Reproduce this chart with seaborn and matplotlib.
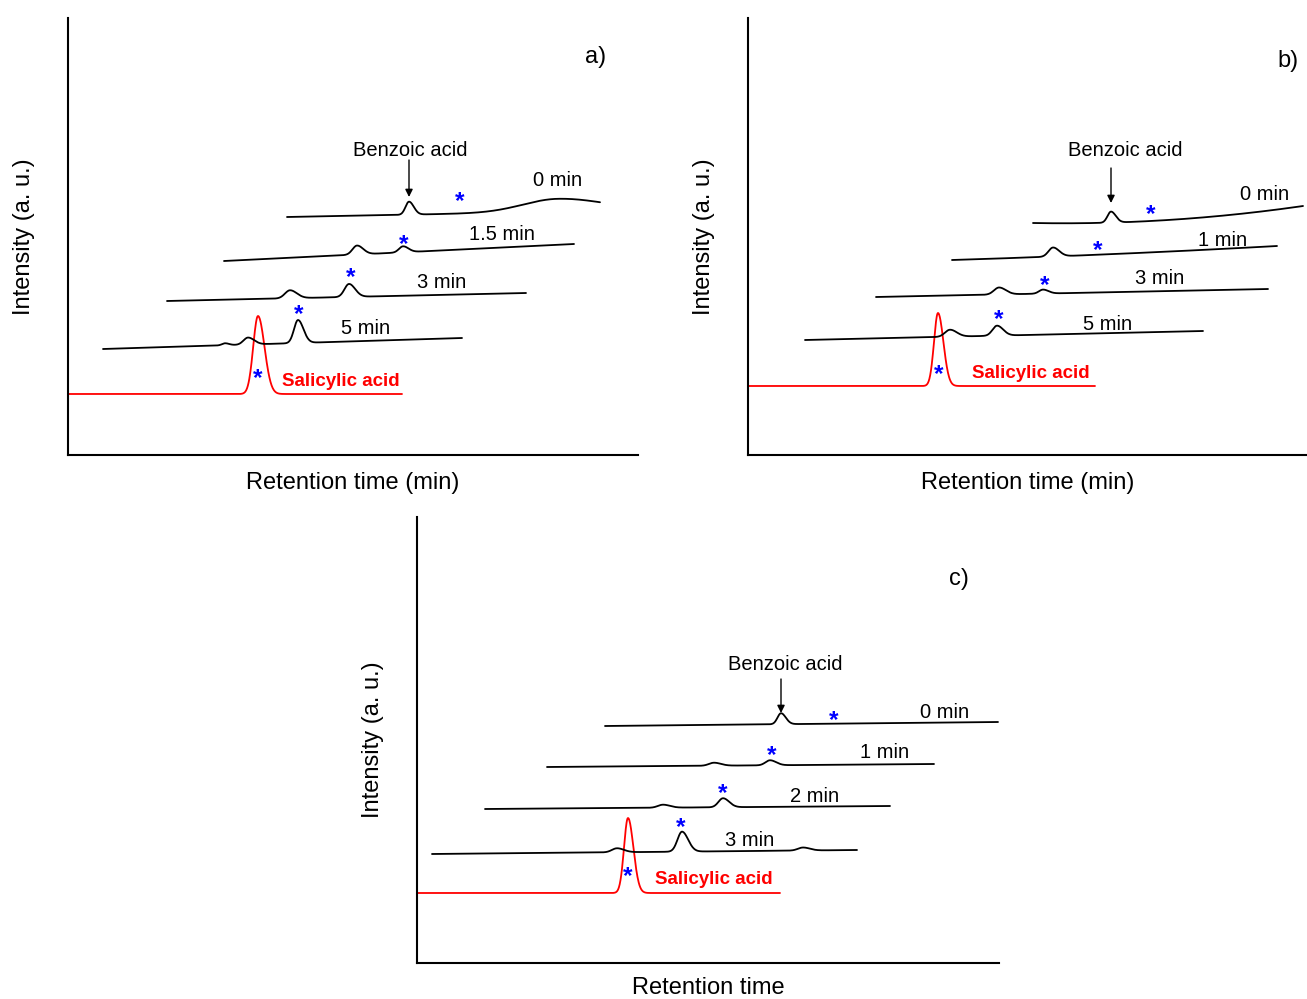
import numpy as np
import pandas as pd
import matplotlib
matplotlib.use("Agg")
import matplotlib.pyplot as plt
import seaborn as sns

sns.set_theme(style="white")
plt.rcParams["font.family"] = ["Liberation Sans", "DejaVu Sans"]
plt.rcParams["text.color"] = "black"

FIG_W, FIG_H = 1307, 999
DPI = 100

# ---------------------------------------------------------------------------
# Chromatogram data (x: retention axis units, y: intensity units, both a.u.)
# Each trace: start/end of the run, baseline at start / middle / end,
# and peaks given as (retention, height, width).
# ---------------------------------------------------------------------------

# Panel a)
a_runs = ["0 min", "1.5 min", "3 min", "5 min"]
a_start = [219, 156, 99, 35]
a_end = [532, 506, 458, 394]
a_baseline = [(238, 241, 244), (194, 202.5, 211), (154, 158, 162), (106, 111.5, 117)]
a_peaks = [
    [(341, 13, 3.5), (490, 13, 35)],
    [(289, 9, 4.5), (335, 6, 4)],
    [(222, 8, 5), (281, 13, 4.5)],
    [(157, 2, 3), (180, 7, 4.5), (230, 23, 4)],
]
a_star = [(392, 257), (336, 214), (283, 181), (231, 144)]
a_run_label_pos = [(490, 277), (434, 223), (374, 175), (298, 128)]
a_sal = dict(start=0, end=334, base=61, peak=(190, 78, 4.8), star=(190, 80), label=(214, 75))
a_benzoic = dict(text=(342, 306), arrow=(341, 295, 258))
a_tag = ("a)", 528, 400)

# Panel b)
b_runs = ["0 min", "1 min", "3 min", "5 min"]
b_start = [285, 204, 128, 57]
b_end = [555, 529, 520, 455]
b_baseline = [(232, 235, 249), (195, 201, 209), (158, 162, 166), (115, 119.5, 124)]
b_peaks = [
    [(363, 11, 3.5)],
    [(305, 9, 4.5)],
    [(251, 7, 5), (295, 4, 4)],
    [(202, 7, 5), (249, 10, 4.5)],
]
b_star = [(403, 244), (350, 208), (297, 173), (251, 139)]
b_run_label_pos = [(517, 263), (475, 216), (412, 178), (360, 133)]
b_sal = dict(start=0, end=347, base=69, peak=(190, 73, 4), star=(191, 84), label=(224, 83))
b_benzoic = dict(text=(377, 306), arrow=(363, 287, 252))
b_tag = ("b)", 540, 396)

# Panel c)
c_runs = ["0 min", "1 min", "2 min", "3 min"]
c_start = [188, 130, 68, 15]
c_end = [581, 517, 473, 440]
c_baseline = [(237, 239, 241), (196, 197.5, 199), (154, 155.5, 157), (109, 111, 113)]
c_peaks = [
    [(364, 11, 3.5)],
    [(297, 3, 5), (353, 5, 4.5)],
    [(246, 3, 5), (306, 9, 4.5)],
    [(200, 4, 5), (265, 20, 4.5), (386, 3, 5)],
]
c_star = [(417, 246), (355, 211), (306, 173), (264, 139)]
c_run_label_pos = [(528, 252), (468, 213), (398, 168), (333, 124)]
c_sal = dict(start=0, end=363, base=70, peak=(211, 75, 4), star=(211, 90), label=(238, 85))
c_benzoic = dict(text=(368, 301), arrow=(364, 284, 250))
c_tag = ("c)", 542, 386)

# Axes frames in pixels: left, top, right, bottom
frames = {
    "a": (68, 18, 638, 455),
    "b": (748, 18, 1307, 455),
    "c": (417, 517, 999, 963),
}
xlabels = {"a": "Retention time (min)", "b": "Retention time (min)", "c": "Retention time"}
xlabel_gap = {"a": -28, "b": -28, "c": -25}

TAIL = 1.35
TEXT_DY = -2   # optical centring of annotation text


def trace(start, end, baseline, peaks):
    x = np.linspace(start, end, 900)
    b0, bm, b1 = baseline
    coef = np.polyfit([start, (start + end) / 2, end], [b0, bm, b1], 2)
    y = np.polyval(coef, x)
    for center, height, width in peaks:
        sig = np.where(x < center, width, width * TAIL)
        y = y + height * np.exp(-0.5 * ((x - center) / sig) ** 2)
    return pd.DataFrame({"retention": x, "intensity": y})


def star(ax, x, y):
    fs = 17.5
    em = fs * DPI / 72
    ax.text(x, y - 0.43 * em, "*", color="blue", fontsize=fs, fontweight="bold",
            ha="center", va="baseline", clip_on=False)


def label(ax, x, y, s, **kw):
    ax.text(x, y + TEXT_DY, s, va="center", clip_on=False, **kw)


fig = plt.figure(figsize=(FIG_W / DPI, FIG_H / DPI), dpi=DPI)

panels = {
    "a": (a_runs, a_start, a_end, a_baseline, a_peaks, a_star, a_run_label_pos, a_sal, a_benzoic, a_tag),
    "b": (b_runs, b_start, b_end, b_baseline, b_peaks, b_star, b_run_label_pos, b_sal, b_benzoic, b_tag),
    "c": (c_runs, c_start, c_end, c_baseline, c_peaks, c_star, c_run_label_pos, c_sal, c_benzoic, c_tag),
}

for key, (runs, starts, ends, bases, peaks, stars, lpos, sal, benz, tag) in panels.items():
    left, top, right, bottom = frames[key]
    w, h = right - left, bottom - top
    ax = fig.add_axes([left / FIG_W, (FIG_H - bottom) / FIG_H, w / FIG_W, h / FIG_H])
    ax.set_xlim(0, w)
    ax.set_ylim(0, h)

    # salicylic acid reference trace
    df = trace(sal["start"], sal["end"], (sal["base"],) * 3, [sal["peak"]])
    sns.lineplot(data=df, x="retention", y="intensity", ax=ax, color="red", lw=1.3,
                 sort=False, estimator=None)
    star(ax, *sal["star"])
    label(ax, sal["label"][0], sal["label"][1], "Salicylic acid", color="red", fontsize=13.5,
          fontweight="bold", ha="left")

    # reaction time traces
    for run, s, e, b, p, st, lp in zip(runs, starts, ends, bases, peaks, stars, lpos):
        df = trace(s, e, b, p)
        sns.lineplot(data=df, x="retention", y="intensity", ax=ax, color="black", lw=1.3,
                     sort=False, estimator=None)
        star(ax, *st)
        label(ax, lp[0], lp[1], run, fontsize=14.5, ha="center", color="black")

    label(ax, benz["text"][0], benz["text"][1], "Benzoic acid", fontsize=14.5,
          ha="center", color="black")
    ax_x, y_from, y_to = benz["arrow"]
    ax.annotate("", xy=(ax_x, y_to), xytext=(ax_x, y_from),
                arrowprops=dict(arrowstyle="-|>", color="black", lw=1.0,
                                mutation_scale=11, shrinkA=0, shrinkB=0))
    label(ax, tag[1], tag[2], tag[0], fontsize=17, ha="center", color="black")

    ax.set_xlabel("")
    ax.set_ylabel("")
    ax.set_xticks([])
    ax.set_yticks([])
    for side in ("top", "right"):
        ax.spines[side].set_visible(False)
    for side in ("left", "bottom"):
        ax.spines[side].set_visible(True)
        ax.spines[side].set_color("black")
        ax.spines[side].set_linewidth(1.5)
    ax.set_facecolor("white")

    ax.text(w / 2, xlabel_gap[key], xlabels[key], fontsize=17, ha="center", va="center",
            color="black", clip_on=False)
    ax.text(-44, h / 2, "Intensity (a. u.)", fontsize=17, rotation=90,
            ha="center", va="center", color="black", clip_on=False)

fig.savefig("out.png", dpi=DPI, facecolor="white")
